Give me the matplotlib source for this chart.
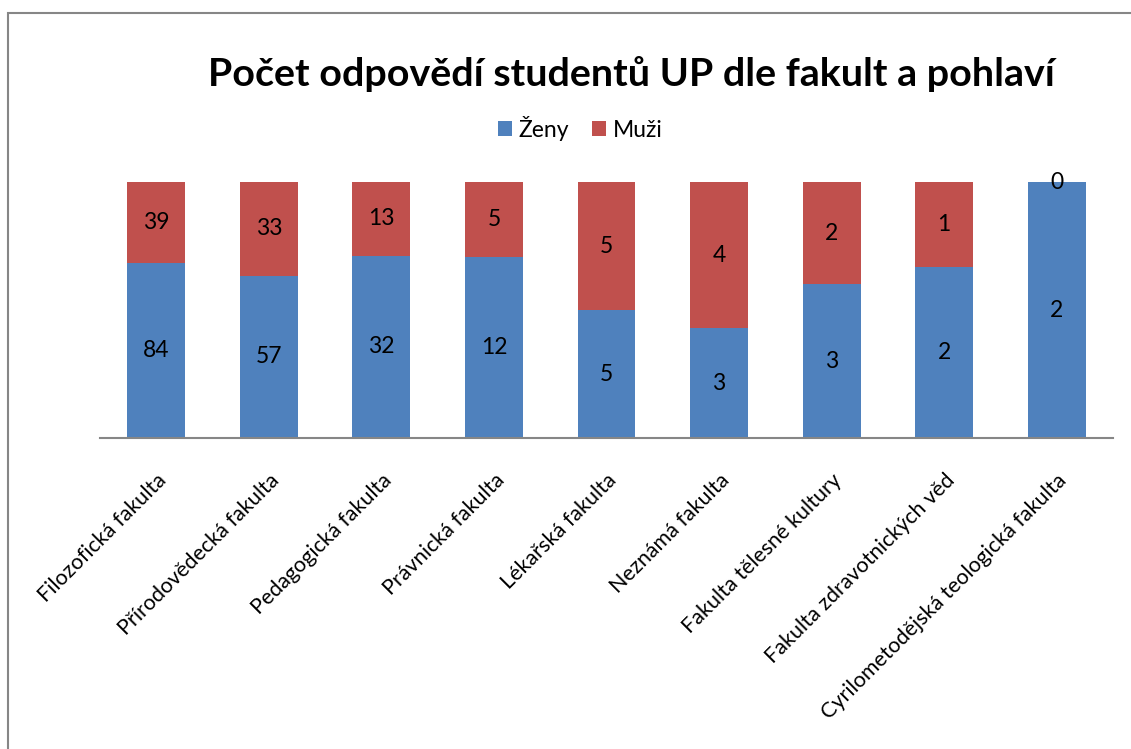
import numpy as np
import matplotlib
matplotlib.use("Agg")
import matplotlib.pyplot as plt
from matplotlib.patches import Rectangle

plt.rcParams['font.family'] = ['Lato', 'DejaVu Sans']

# data
fakulty = ["Filozofická fakulta", "Přírodovědecká fakulta", "Pedagogická fakulta",
           "Právnická fakulta", "Lékařská fakulta", "Neznámá fakulta",
           "Fakulta tělesné kultury", "Fakulta zdravotnických věd",
           "Cyrilometodějská teologická fakulta"]
zeny = [84, 57, 32, 12, 5, 3, 3, 2, 2]
muzi = [39, 33, 13, 5, 5, 4, 2, 1, 0]

blue = "#4F81BD"
red = "#C0504D"

zeny = np.array(zeny, dtype=float)
muzi = np.array(muzi, dtype=float)
total = zeny + muzi
pz = zeny / total
pm = muzi / total
x = np.arange(len(fakulty))

fig = plt.figure(figsize=(11.31, 7.49), dpi=100)
ax = fig.add_axes([0.0884, 0.4152, 0.8957, 0.3418])

bz = ax.bar(x, pz, width=0.515, color=blue, label="Ženy")
bm = ax.bar(x, pm, width=0.515, bottom=pz, color=red, label="Muži")

for i in range(len(x)):
    ax.text(x[i], pz[i] / 2, "%d" % zeny[i], ha="center", va="center", fontsize=16.5)
    ax.text(x[i], pz[i] + pm[i] / 2, "%d" % muzi[i], ha="center", va="center", fontsize=16.5)

ax.set_xlim(-0.5, len(x) - 0.5)
ax.set_ylim(0, 1)
ax.set_yticks([])
for s in ["top", "right", "left"]:
    ax.spines[s].set_visible(False)
ax.spines["bottom"].set_color("#868686")
ax.spines["bottom"].set_linewidth(1.5)
ax.set_xticks(x)
ax.set_xticklabels(fakulty, rotation=45, ha="right", rotation_mode="anchor", fontsize=15.5)
ax.tick_params(axis="x", length=0, pad=23)

fig.text(0.558, 0.901, "Počet odpovědí studentů UP dle fakult a pohlaví",
         ha="center", va="center", fontsize=28.4, fontweight="bold")
fig.legend(handles=[bz, bm], loc="center", bbox_to_anchor=(0.513, 0.829), ncol=2,
           frameon=False, fontsize=16.5, handlelength=0.6, handleheight=0.6,
           handletextpad=0.3, columnspacing=1.0)

# outer chart border
fig.add_artist(Rectangle((8 / 1131, -0.1), 1.2, 1.1 - 13 / 749, transform=fig.transFigure,
                         fill=False, edgecolor="#868686", linewidth=1.5))

fig.savefig("out.png", dpi=100)
